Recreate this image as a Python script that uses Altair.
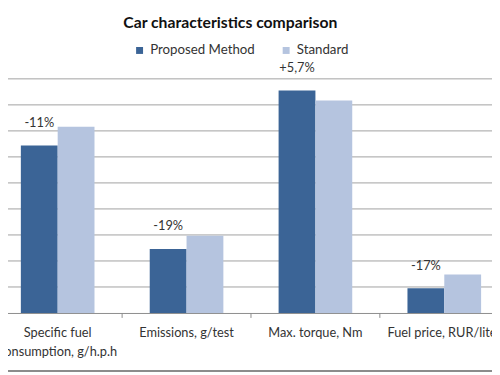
import altair as alt
import pandas as pd

categories = ["Specific fuel consumption, g/h.p.h", "Emissions, g/test", "Max. torque, Nm", "Fuel price, RUR/liter"]
series = ["Proposed Method", "Standard"]
proposed = [6.44, 2.46, 8.55, 0.95]
standard = [7.16, 2.97, 8.17, 1.48]
change_labels = ["-11%", "-19%", "+5,7%", "-17%"]
grid_values = [1, 2, 3, 4, 5, 6, 7, 8, 9]
colors = ["#3B6496", "#B5C4DF"]
title_text = "Car characteristics comparison"

rows = []
for c, p, s, lab in zip(categories, proposed, standard, change_labels):
    rows.append({"category": c, "series": series[0], "value": p, "label": lab})
    rows.append({"category": c, "series": series[1], "value": s, "label": ""})
df = pd.DataFrame(rows)

FONT = "Lato"
W, H = 524, 238

y_scale = alt.Scale(domain=[0, 9], nice=False)

grid = alt.Chart(pd.DataFrame({"g": grid_values})).mark_rule(color="#a0a0a0", strokeWidth=1).encode(
    y=alt.Y("g:Q", scale=y_scale, axis=None),
    x=alt.value(0), x2=alt.value(W),
)

x_enc = alt.X("category:N", sort=categories,
              scale=alt.Scale(paddingInner=0, paddingOuter=0),
              axis=alt.Axis(title=None, ticks=False, domain=True, domainColor="#8c8c8c",
                            labelAngle=0, labelFont=FONT, labelFontSize=13, labelColor="#333333",
                            labelPadding=14, labelLineHeight=19, labelBaseline="top",
                            labelExpr="datum.label == 'Specific fuel consumption, g/h.p.h' ? ['Specific fuel', 'consumption, g/h.p.h'] : datum.label"))

bars = alt.Chart(df).mark_bar().encode(
    x=x_enc,
    xOffset=alt.XOffset("series:N", sort=series, scale=alt.Scale(paddingInner=0, paddingOuter=0.75)),
    y=alt.Y("value:Q", scale=y_scale, axis=None),
    color=alt.Color("series:N", sort=series, scale=alt.Scale(domain=series, range=colors),
                    legend=alt.Legend(title=None, orient="none", legendX=142, legendY=-36,
                                      direction="horizontal", symbolType="square", symbolSize=50,
                                      symbolStrokeWidth=0, labelFont=FONT, labelFontSize=13.5,
                                      labelColor="#333333", columnPadding=25, padding=0,
                                      labelOffset=4)),
)

labels = alt.Chart(df).transform_filter(alt.datum.series == series[0]).mark_text(
    font=FONT, fontSize=13, color="#333333", dy=-23, baseline="middle"
).encode(
    x=alt.X("category:N", sort=categories),
    xOffset=alt.XOffset("series:N", sort=series),
    y=alt.Y("value:Q", scale=y_scale),
    text="label:N",
)

ticks = alt.Chart(pd.DataFrame({"category": categories})).mark_rule(color="#8c8c8c").encode(
    x=alt.X("category:N", sort=categories, bandPosition=0),
    y=alt.value(H),
    y2=alt.value(H + 5),
)

title = alt.Chart(pd.DataFrame({"t": [title_text]})).mark_text(
    font=FONT, fontSize=16, fontWeight="bold", color="#111111", align="center", baseline="middle"
).encode(x=alt.value(241), y=alt.value(-57), text="t:N")

border = alt.Chart(pd.DataFrame({"a": [0]})).mark_rule(color="#8c8c8c", strokeWidth=2).encode(
    x=alt.value(0), x2=alt.value(W), y=alt.value(H + 59)
)

chart = alt.layer(grid, bars, labels, ticks, title, border).properties(
    width=W, height=H,
    autosize=alt.AutoSizeParams(type="none"),
    padding={"left": -15, "top": 69, "right": -17, "bottom": 60},
).configure_view(stroke=None)

chart.save("out.html", embed_options={"renderer": "svg", "actions": False})
